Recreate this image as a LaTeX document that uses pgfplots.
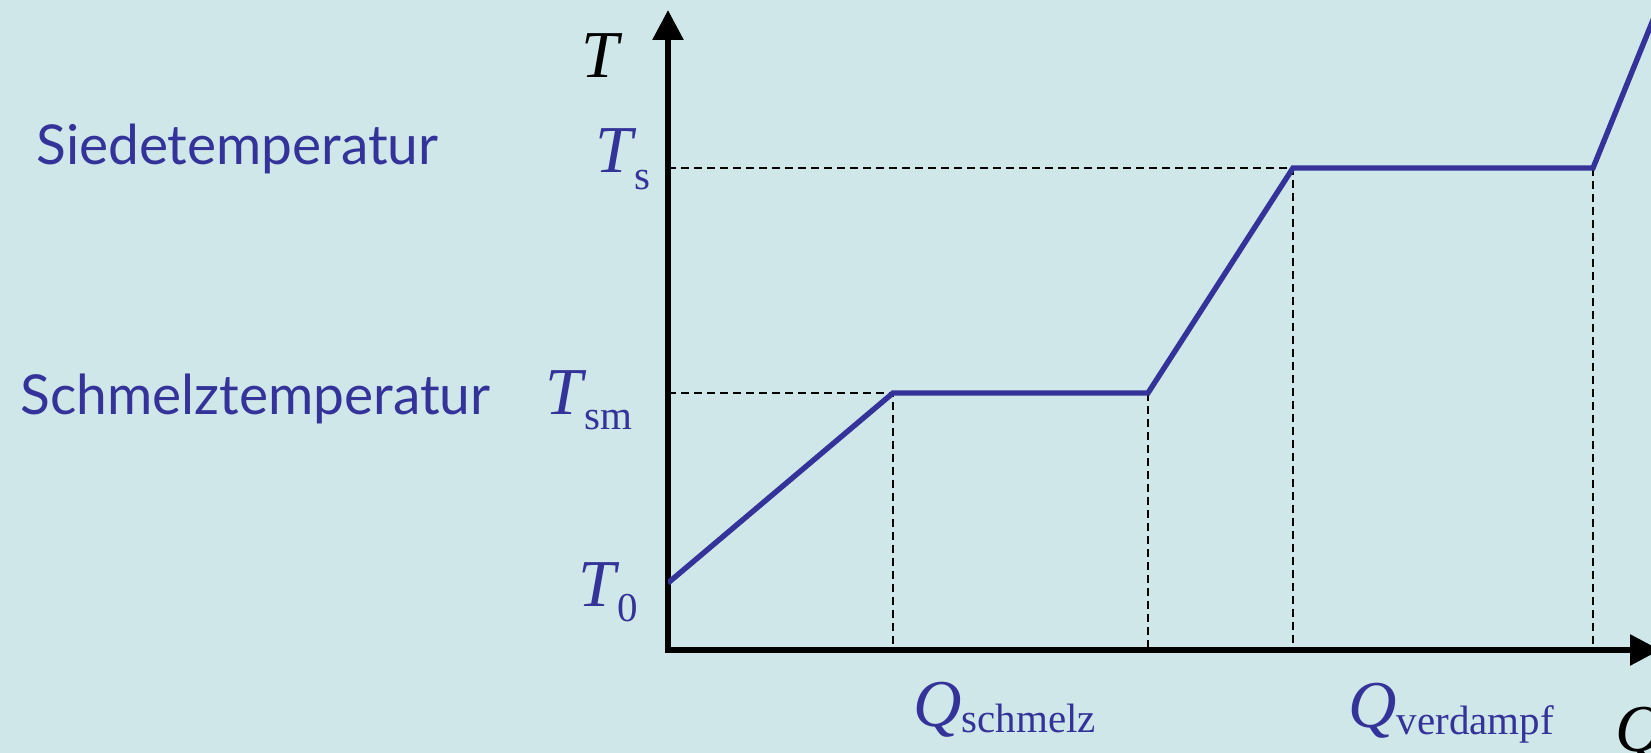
\documentclass[border=0pt]{standalone}
\usepackage{pgfplots}
\pgfplotsset{compat=1.18}
\usetikzlibrary{arrows.meta}
\usepackage{fontspec}
\setmainfont{Liberation Serif}
\newfontfamily\sansf{Lato}
\definecolor{bg}{HTML}{D0E7E9}
\definecolor{blu}{HTML}{333399}
\begin{document}
\begin{tikzpicture}[x=0.5pt,y=0.5pt]
\clip (0,0) rectangle (1651,753);
\fill[bg] (0,0) rectangle (1651,753);
\begin{axis}[
  at={(334pt,51.5pt)}, anchor=south west,
  x=0.5pt, y=0.5pt,
  xmin=0, xmax=992, ymin=0, ymax=640,
  axis lines=left,
  xtick=\empty, ytick=\empty,
  axis line style={line width=2.9pt, line cap=rect, -{Triangle[length=15pt,width=15pt]}},
  every outer x axis line/.append style={-{Triangle[length=15pt,width=15pt]}},
  every outer y axis line/.append style={-{Triangle[length=15pt,width=15pt]}},
]
\addplot[black, line width=0.9pt, dash pattern=on 4pt off 2.5pt] coordinates {(0,257) (225,257) (225,0)};
\addplot[black, line width=0.9pt, dash pattern=on 4pt off 2.5pt] coordinates {(480,257) (480,0)};
\addplot[black, line width=0.9pt, dash pattern=on 4pt off 2.5pt] coordinates {(0,482) (625,482) (625,0)};
\addplot[black, line width=0.9pt, dash pattern=on 4pt off 2.5pt] coordinates {(925,482) (925,0)};
\addplot[blu, line width=2.7pt] coordinates {(0,67) (225,257) (480,257) (625,482) (925,482) (1000,667)};
\end{axis}
\def\bigf{\fontsize{33.5}{33.5}\selectfont}
\def\subf{\fontsize{20.5}{20.5}\selectfont}
\node[anchor=base west, inner sep=0pt, black] at (581,675) {\bigf\itshape T};
\node[anchor=base west, inner sep=0pt, blu] at (595,580) {{\bigf\itshape T}\kern1pt\raisebox{-8.5pt}{\subf s}};
\node[anchor=base west, inner sep=0pt, blu] at (545,338) {{\bigf\itshape T}\kern1pt\raisebox{-7.5pt}{\subf sm}};
\node[anchor=base west, inner sep=0pt, blu] at (578,146) {{\bigf\itshape T}\kern1pt\raisebox{-7.5pt}{\subf 0}};
\node[anchor=base west, inner sep=0pt, blu] at (913,26) {{\bigf\itshape Q}\raisebox{-3pt}{\subf schmelz}};
\node[anchor=base west, inner sep=0pt, blu] at (1348,25) {{\bigf\itshape Q}\raisebox{-3.5pt}{\subf verdampf}};
\node[anchor=base west, inner sep=0pt, black] at (1615,1) {\bigf\itshape Q};
\node[anchor=base west, inner sep=0pt, blu] at (36,588) {\resizebox{201pt}{!}{\sansf Siedetemperatur}};
\node[anchor=base west, inner sep=0pt, blu] at (20,338) {\resizebox{235pt}{!}{\sansf Schmelztemperatur}};
\end{tikzpicture}
\end{document}
